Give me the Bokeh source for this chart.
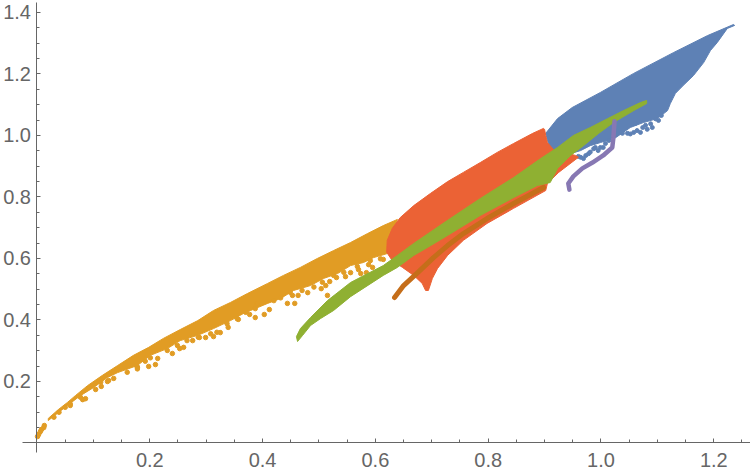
from bokeh.plotting import figure
from bokeh.models import Range1d, FixedTicker, NumeralTickFormatter
from bokeh.embed import file_html
from bokeh.resources import INLINE

x_ticks = [0.2, 0.4, 0.6, 0.8, 1.0, 1.2]
y_ticks = [0.2, 0.4, 0.6, 0.8, 1.0, 1.2, 1.4]
x_minor = [0.05, 0.1, 0.15, 0.25, 0.3, 0.35, 0.45, 0.5, 0.55, 0.65, 0.7, 0.75, 0.85, 0.9, 0.95, 1.05, 1.1, 1.15, 1.25]
y_minor = [0.05, 0.1, 0.15, 0.25, 0.3, 0.35, 0.45, 0.5, 0.55, 0.65, 0.7, 0.75, 0.85, 0.9, 0.95, 1.05, 1.1, 1.15, 1.25, 1.3, 1.35]

blue_x = [1.235, 1.189, 1.129, 1.058, 0.999, 0.949, 0.923, 0.902, 0.910, 0.946, 0.964, 0.981, 0.999, 1.026, 1.052, 1.075, 1.100, 1.118, 1.123, 1.132, 1.146, 1.164, 1.182, 1.194, 1.206, 1.224, 1.237]
blue_y = [1.361, 1.325, 1.270, 1.202, 1.140, 1.091, 1.055, 1.007, 0.951, 0.941, 0.951, 0.967, 0.977, 0.993, 1.026, 1.042, 1.055, 1.081, 1.104, 1.137, 1.163, 1.195, 1.237, 1.276, 1.302, 1.348, 1.358]
blue_px = [0.969, 0.960, 0.978, 0.995, 1.004, 0.990, 1.047, 1.058, 1.070, 1.082, 1.091, 1.074, 1.061, 1.102, 1.107, 1.038,
           1.035, 1.052, 1.064, 1.079, 1.088, 1.097, 0.981, 0.973, 0.987, 1.014, 1.008, 0.999, 0.964]
blue_py = [0.925, 0.932, 0.941, 0.951, 0.961, 0.961, 1.007, 1.010, 1.010, 1.020, 1.026, 1.026, 1.039, 1.049, 1.065, 1.007,
           1.011, 1.005, 1.016, 1.033, 1.038, 1.054, 0.946, 0.935, 0.957, 0.984, 0.974, 0.961, 0.929]

orange_x = [0.020, 0.038, 0.054, 0.068, 0.090, 0.116, 0.143, 0.171, 0.198, 0.224, 0.254, 0.285, 0.313, 0.343, 0.373, 0.409, 0.437, 0.467, 0.497, 0.526, 0.556, 0.586, 0.614, 0.639,
            0.621, 0.597, 0.579, 0.556, 0.533, 0.508, 0.485, 0.455, 0.432, 0.409, 0.379, 0.366, 0.343, 0.313, 0.285, 0.254, 0.231, 0.201, 0.178, 0.143, 0.125, 0.100, 0.077, 0.054, 0.036, 0.020]
orange_y = [0.080, 0.109, 0.132, 0.154, 0.187, 0.220, 0.252, 0.285, 0.311, 0.340, 0.369, 0.398, 0.431, 0.457, 0.486, 0.519, 0.545, 0.571, 0.600, 0.626, 0.652, 0.681, 0.707, 0.727,
            0.616, 0.603, 0.587, 0.577, 0.551, 0.535, 0.512, 0.496, 0.470, 0.454, 0.431, 0.421, 0.398, 0.372, 0.350, 0.333, 0.307, 0.285, 0.252, 0.229, 0.213, 0.180, 0.154, 0.122, 0.096, 0.073]
orange_px = [0.198, 0.210, 0.104, 0.114, 0.136, 0.081, 0.125, 0.059, 0.178, 0.214, 0.240, 0.253, 0.260, 0.276, 0.288, 0.299, 0.313, 0.325, 0.339, 0.357, 0.377, 0.387, 0.403, 0.412, 0.387, 0.444, 0.457, 0.453, 0.463, 0.480, 0.515, 0.504, 0.512, 0.519, 0.531, 0.547, 0.556, 0.574, 0.584, 0.595, 0.570, 0.614, 0.588,
             0.178, 0.201, 0.231, 0.249, 0.266, 0.286, 0.308, 0.319, 0.337, 0.355, 0.370, 0.390, 0.420, 0.432, 0.449, 0.470, 0.491, 0.506, 0.526, 0.544, 0.568, 0.591, 0.609,
             0.077, 0.086, 0.059, 0.050, 0.039, 0.030, 0.113, 0.127, 0.160, 0.178, 0.192, 0.001, 0.003, 0.006, 0.008, 0.012, 0.013]
orange_py = [0.249, 0.255, 0.174, 0.184, 0.210, 0.141, 0.200, 0.122, 0.246, 0.275, 0.291, 0.307, 0.311, 0.333, 0.343, 0.343, 0.346, 0.359, 0.376, 0.402, 0.418, 0.408, 0.418, 0.434, 0.437, 0.454, 0.454, 0.480, 0.480, 0.489, 0.480, 0.502, 0.512, 0.525, 0.538, 0.541, 0.554, 0.551, 0.554, 0.571, 0.564, 0.597, 0.580,
             0.247, 0.277, 0.301, 0.317, 0.333, 0.344, 0.355, 0.360, 0.388, 0.404, 0.425, 0.453, 0.463, 0.472, 0.490, 0.496, 0.507, 0.523, 0.545, 0.555, 0.574, 0.593, 0.599,
             0.149, 0.144, 0.127, 0.116, 0.100, 0.084, 0.198, 0.203, 0.230, 0.241, 0.266, 0.021, 0.028, 0.037, 0.044, 0.050, 0.057]

red_x = [0.898, 0.879, 0.845, 0.816, 0.786, 0.756, 0.728, 0.698, 0.668, 0.644, 0.630, 0.621, 0.620, 0.630, 0.648, 0.668, 0.683, 0.689, 0.694, 0.701, 0.710, 0.728, 0.756, 0.798, 0.845, 0.902, 0.905, 0.925, 0.960, 0.955, 0.916, 0.905, 0.902, 0.900]
red_y = [1.023, 1.007, 0.974, 0.945, 0.912, 0.880, 0.850, 0.812, 0.772, 0.733, 0.698, 0.659, 0.620, 0.593, 0.571, 0.545, 0.519, 0.496, 0.496, 0.535, 0.567, 0.610, 0.659, 0.714, 0.763, 0.821, 0.844, 0.880, 0.929, 0.935, 0.954, 0.977, 1.000, 1.020]

green_x = [1.081, 1.070, 1.040, 1.012, 0.981, 0.951, 0.923, 0.893, 0.845, 0.786, 0.728, 0.668, 0.639, 0.614, 0.556, 0.515, 0.485, 0.467, 0.460, 0.462, 0.471, 0.485, 0.503, 0.526, 0.556, 0.614, 0.639, 0.668, 0.698, 0.728, 0.786, 0.845, 0.887, 0.910, 0.923, 0.946, 0.969, 0.996, 1.022, 1.058, 1.081]
green_y = [1.114, 1.107, 1.081, 1.055, 1.026, 1.000, 0.961, 0.925, 0.863, 0.795, 0.724, 0.649, 0.610, 0.577, 0.522, 0.463, 0.408, 0.372, 0.346, 0.330, 0.350, 0.382, 0.405, 0.431, 0.476, 0.545, 0.571, 0.610, 0.642, 0.675, 0.740, 0.798, 0.837, 0.847, 0.893, 0.935, 0.967, 1.007, 1.042, 1.081, 1.104]

brown_x = [0.634, 0.650, 0.675, 0.703, 0.728, 0.756, 0.798, 0.845, 0.898]
brown_y = [0.473, 0.512, 0.554, 0.603, 0.642, 0.681, 0.730, 0.779, 0.831]

purple_x = [0.944, 0.942, 0.951, 0.967, 0.985, 1.004, 1.020, 1.022, 1.024]
purple_y = [0.824, 0.844, 0.867, 0.893, 0.912, 0.935, 0.961, 0.993, 1.046]

BLUE, ORANGE, GREEN = "#5E81B5", "#E19C24", "#8FB032"
RED, PURPLE, BROWN = "#EB6235", "#8778B3", "#C56E1A"
GRAY = "#666666"

p = figure(width=750, height=475, output_backend="svg", toolbar_location=None,
           x_range=Range1d(-0.0647, 1.2651), y_range=Range1d(-0.1057, 1.4390),
           min_border=0, outline_line_color=None)
p.grid.visible = False

for ax, ticks, minor, bounds in (
    (p.xaxis[0], x_ticks, x_minor, (-0.0257, 1.2651)),
    (p.yaxis[0], y_ticks, y_minor, (-0.031, 1.4325)),
):
    ax.ticker = FixedTicker(ticks=ticks, minor_ticks=minor)
    ax.formatter = NumeralTickFormatter(format="0.0")
    ax.fixed_location = 0
    ax.bounds = bounds
    ax.axis_line_color = GRAY
    ax.major_tick_line_color = GRAY
    ax.minor_tick_line_color = GRAY
    ax.major_tick_in = 4
    ax.major_tick_out = 0
    ax.minor_tick_in = 3
    ax.minor_tick_out = 0
    ax.major_label_text_color = GRAY
    ax.major_label_text_font = "Liberation Sans"
    ax.major_label_text_font_size = "20px"
p.xaxis[0].major_label_standoff = 10
p.yaxis[0].major_label_standoff = 6

p.patch(blue_x, blue_y, fill_color=BLUE, line_color=BLUE, line_width=1)
p.scatter(blue_px, blue_py, size=4, color=BLUE)
p.patch(orange_x, orange_y, fill_color=ORANGE, line_color=ORANGE, line_width=1)
p.scatter(orange_px, orange_py, size=4.5, color=ORANGE)
p.patch(red_x, red_y, fill_color=RED, line_color=RED, line_width=1)
p.line(brown_x, brown_y, line_color=BROWN, line_width=5, line_cap="round", line_join="round")
p.patch(green_x, green_y, fill_color=GREEN, line_color=GREEN, line_width=1)
p.line(purple_x, purple_y, line_color=PURPLE, line_width=4.5, line_cap="round", line_join="round")

open("out.html", "w").write(file_html(p, INLINE))
